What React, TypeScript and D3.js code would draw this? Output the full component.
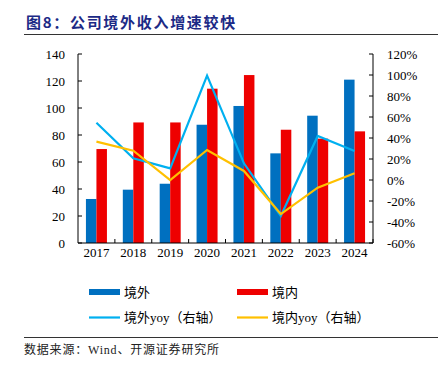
import React from "react";
import * as d3 from "d3";

const years = ["2017", "2018", "2019", "2020", "2021", "2022", "2023", "2024"];
const overseas = [32.6, 39.5, 43.9, 87.6, 101.5, 66.4, 94.3, 121];
const domestic = [69.6, 89.3, 89.3, 114.3, 124.4, 83.9, 77.3, 82.7];
const overseasYoy = [54.6, 20.6, 11.1, 99.4, 15.9, -34.3, 41.9, 27.6];
const domesticYoy = [36.5, 27.9, 0, 28.6, 8.6, -32.4, -7.3, 6.4];
const leftTicks = [0, 20, 40, 60, 80, 100, 120, 140];
const rightTicks = [-60, -40, -20, 0, 20, 40, 60, 80, 100, 120];

const W = 438;
const H = 368;
const left = 78;
const right = 373;
const top = 54;
const bottom = 243;

const serif = "'Liberation Serif', 'Noto Sans CJK SC', serif";
const cjk = "'Noto Sans CJK SC', sans-serif";

export default function App() {
  const x = d3.scaleBand<string>().domain(years).range([left, right]).padding(0);
  const bw = 10.5;
  const yL = d3.scaleLinear().domain([0, 140]).range([bottom, top]);
  const yR = d3.scaleLinear().domain([-60, 120]).range([bottom, top]);
  const cx = (i: number) => (x(years[i]) as number) + x.bandwidth() / 2;
  const line = d3
    .line<number>()
    .x((_, i) => cx(i))
    .y((d) => yR(d));

  return (
    <svg width={W} height={H} style={{ position: "absolute", left: 0, top: 0, background: "#fff" }}>
      <text x={26} y={28} fontFamily={cjk} fontWeight="bold" fontSize={15} letterSpacing={1.7} fill="#1c2a86">
        图8：公司境外收入增速较快
      </text>
      <line x1={24} x2={438} y1={34.5} y2={34.5} stroke="#333" strokeWidth={1.2} />

      {/* bars */}
      {years.map((yr, i) => (
        <g key={yr}>
          <rect x={cx(i) - bw} y={yL(overseas[i])} width={bw} height={bottom - yL(overseas[i])} fill="#0070C0" />
          <rect x={cx(i)} y={yL(domestic[i])} width={bw} height={bottom - yL(domestic[i])} fill="#EE0000" />
        </g>
      ))}

      <path d={line(overseasYoy) as string} fill="none" stroke="#00B0F0" strokeWidth={2.2} />
      <path d={line(domesticYoy) as string} fill="none" stroke="#FFC000" strokeWidth={2.2} />

      {/* left axis */}
      <line x1={left} x2={left} y1={top} y2={bottom} stroke="#000" />
      {leftTicks.map((t) => (
        <g key={t}>
          <line x1={left} x2={left + 4} y1={yL(t)} y2={yL(t)} stroke="#000" />
          <text x={65} y={yL(t)} dy="0.35em" textAnchor="end" fontFamily={serif} fontSize={13}>
            {t}
          </text>
        </g>
      ))}

      {/* right axis */}
      <line x1={right} x2={right} y1={top} y2={bottom} stroke="#000" />
      {rightTicks.map((t) => (
        <g key={t}>
          <line x1={right - 4} x2={right} y1={yR(t)} y2={yR(t)} stroke="#000" />
          <text x={387} y={yR(t)} dy="0.35em" textAnchor="start" fontFamily={serif} fontSize={13}>
            {t + "%"}
          </text>
        </g>
      ))}

      {/* x axis */}
      <line x1={left} x2={right} y1={bottom} y2={bottom} stroke="#000" />
      {years.map((yr, i) => (
        <g key={yr}>
          <line x1={(x(yr) as number) + x.bandwidth()} x2={(x(yr) as number) + x.bandwidth()} y1={bottom - 4} y2={bottom} stroke="#000" />
          <text x={cx(i)} y={257} textAnchor="middle" fontFamily={serif} fontSize={13}>
            {yr}
          </text>
        </g>
      ))}

      {/* legend */}
      <rect x={89} y={289} width={31} height={6} fill="#0070C0" />
      <text x={124} y={292} dy="0.35em" fontFamily={serif} fontSize={13}>境外</text>
      <rect x={237} y={289} width={31} height={6} fill="#EE0000" />
      <text x={272} y={292} dy="0.35em" fontFamily={serif} fontSize={13}>境内</text>
      <line x1={89} x2={120} y1={317.5} y2={317.5} stroke="#00B0F0" strokeWidth={2.2} />
      <text x={124} y={317.5} dy="0.35em" fontFamily={serif} fontSize={13}>境外yoy（右轴）</text>
      <line x1={237} x2={268} y1={317.5} y2={317.5} stroke="#FFC000" strokeWidth={2.2} />
      <text x={272} y={317.5} dy="0.35em" fontFamily={serif} fontSize={13}>境内yoy（右轴）</text>

      <line x1={24} x2={438} y1={337.5} y2={337.5} stroke="#333" strokeWidth={1} />
      <text x={24} y={354} fontFamily={serif} fontSize={12} letterSpacing={0.8} fill="#222">
        数据来源：Wind、开源证券研究所
      </text>
    </svg>
  );
}
